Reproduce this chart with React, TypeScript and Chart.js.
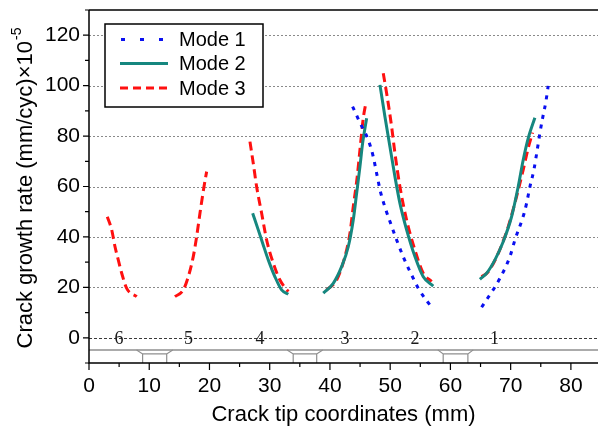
import React, { useEffect, useRef } from 'react';
import { Chart, registerables } from 'chart.js';

Chart.register(...registerables);

// ---------- Data ----------
const xTickLabels = [0, 10, 20, 30, 40, 50, 60, 70, 80];
const yTickLabels = [0, 20, 40, 60, 80, 100, 120];
const gridValues = [0, 20, 40, 60, 80, 100, 120];

// Mode 1 (blue dotted)
const mode1AX = [43.76, 44.98, 46.36, 47.19, 47.75, 48.42, 49.29, 50.07, 51.07, 52.28, 53.83, 54.82, 56.88];
const mode1AY = [91.7, 85.3, 78.5, 71.8, 65.2, 57.6, 50.7, 45.4, 38.8, 31.5, 23.6, 19.0, 12.1];
const mode1BX = [65.18, 68.22, 69.88, 70.71, 72.2, 72.65, 73.2, 73.86, 74.41, 74.85, 75.3, 75.85, 76.23];
const mode1BY = [12.1, 23.6, 32.2, 38.8, 49.1, 53.4, 59.9, 66.6, 74.5, 81.1, 87.1, 93.7, 99.9];

// Mode 2 (teal solid)
const mode2S4X = [27.17, 28.1, 28.83, 29.76, 30.87, 31.98, 33.08];
const mode2S4Y = [49.4, 42.8, 37.5, 30.9, 24.2, 19.0, 17.3];
const mode2S3X = [38.89, 40.55, 41.94, 43.04, 43.87, 44.43, 44.98, 45.42, 46.09];
const mode2S3Y = [17.7, 21.6, 28.2, 36.1, 46.7, 57.3, 67.9, 77.1, 87.1];
const mode2S2X = [48.3, 49.13, 49.96, 50.79, 51.62, 52.73, 54.11, 55.49, 57.15];
const mode2S2Y = [100.3, 87.7, 75.8, 63.9, 53.3, 42.8, 32.2, 24.2, 20.5];
const mode2S1X = [64.9, 66.01, 67.39, 68.76, 70.15, 71.25, 72.08, 72.91, 74.02];
const mode2S1Y = [23.2, 25.6, 30.9, 38.1, 48.0, 59.9, 70.5, 79.1, 87.3];

// Mode 3 (red dashed)
const mode3S6X = [3.04, 3.77, 4.32, 4.86, 5.43, 6.26, 7.92];
const mode3S6Y = [48.0, 42.8, 36.1, 30.9, 25.6, 19.6, 16.3];
const mode3S5X = [14.27, 15.65, 16.48, 17.31, 17.87, 18.42, 19.09, 19.53];
const mode3S5Y = [16.3, 19.0, 24.2, 32.2, 40.1, 49.4, 59.9, 65.9];
const mode3S4X = [26.72, 27.27, 27.83, 28.66, 29.49, 30.59, 31.7, 33.08];
const mode3S4Y = [77.8, 69.2, 59.9, 49.4, 38.8, 29.6, 22.9, 18.3];
const mode3S3X = [39.45, 41.11, 42.49, 43.32, 43.87, 44.53, 44.98, 45.53, 45.98];
const mode3S3Y = [19.0, 22.9, 32.2, 41.5, 52.0, 63.9, 74.5, 87.1, 93.3];
const mode3S2X = [48.85, 49.41, 50.24, 50.79, 51.62, 52.73, 54.11, 55.49, 56.88];
const mode3S2Y = [104.9, 97.0, 83.7, 73.2, 59.9, 46.7, 34.8, 25.6, 22.3];
const mode3S1X = [65.18, 66.28, 67.94, 69.6, 70.98, 72.08, 72.91, 73.64];
const mode3S1Y = [24.2, 26.2, 33.5, 44.1, 56.0, 66.6, 75.2, 81.4];

// Specimen sketch at the bottom
const stripLevel = -4.8;
const notchLevel = -6.4;
const supportOuterL = [7.9, 32.9, 57.9];
const supportInnerL = [8.9, 33.9, 58.8];
const supportInnerR = [12.9, 37.8, 62.9];
const supportOuterR = [13.9, 38.8, 63.8];
const crackLabels = ['6', '5', '4', '3', '2', '1'];
const crackLabelX = [5.0, 16.5, 28.4, 42.5, 54.1, 67.3];

const legendNames = ['Mode 1', 'Mode 2', 'Mode 3'];

const BLUE = '#0a10f0';
const TEAL = '#16877f';
const RED = '#ff1010';
const SANS = '"Liberation Sans", Arial, sans-serif';
const SERIF = '"Liberation Serif", "Times New Roman", serif';

const pts = (xs: number[], ys: number[]) => xs.map((x, i) => ({ x, y: ys[i] }));

const styleFor = (mode: number) => {
  if (mode === 1) return { borderColor: BLUE, borderWidth: 3, borderDash: [4, 6] };
  if (mode === 2) return { borderColor: TEAL, borderWidth: 3, borderDash: [] };
  return { borderColor: RED, borderWidth: 3, borderDash: [9, 5] };
};

const mk = (mode: number, xs: number[], ys: number[]) => ({
  label: legendNames[mode - 1],
  data: pts(xs, ys),
  showLine: true,
  pointRadius: 0,
  cubicInterpolationMode: 'monotone' as const,
  fill: false,
  ...styleFor(mode),
});

const decorPlugin = {
  id: 'decor',
  beforeDatasetsDraw(chart: any) {
    const { ctx, chartArea, scales } = chart;
    const { left, right, bottom } = chartArea;
    const xs = scales.x;
    const ys = scales.y;
    ctx.save();
    // grid lines
    gridValues.forEach((v) => {
      const py = Math.round(ys.getPixelForValue(v)) + 0.5;
      ctx.beginPath();
      if (v === 0) {
        ctx.strokeStyle = '#3a3a3a';
        ctx.setLineDash([3, 2]);
      } else {
        ctx.strokeStyle = '#8a8a8a';
        ctx.setLineDash([2, 2]);
      }
      ctx.lineWidth = 1;
      ctx.moveTo(left, py);
      ctx.lineTo(right, py);
      ctx.stroke();
    });
    ctx.setLineDash([]);
    // strip
    const sy = ys.getPixelForValue(stripLevel);
    const ny = ys.getPixelForValue(notchLevel);
    ctx.strokeStyle = '#8f8f8f';
    ctx.lineWidth = 1.5;
    ctx.beginPath();
    ctx.moveTo(left, sy);
    ctx.lineTo(right, sy);
    ctx.stroke();
    ctx.lineWidth = 1.2;
    for (let i = 0; i < supportOuterL.length; i++) {
      const a = xs.getPixelForValue(supportOuterL[i]);
      const b = xs.getPixelForValue(supportInnerL[i]);
      const c = xs.getPixelForValue(supportInnerR[i]);
      const d = xs.getPixelForValue(supportOuterR[i]);
      ctx.beginPath();
      ctx.moveTo(a, sy);
      ctx.lineTo(b, ny);
      ctx.lineTo(c, ny);
      ctx.lineTo(d, sy);
      ctx.moveTo(b, ny);
      ctx.lineTo(b, bottom);
      ctx.moveTo(c, ny);
      ctx.lineTo(c, bottom);
      ctx.stroke();
    }
    // crack numbers
    ctx.fillStyle = '#1a1a1a';
    ctx.font = `18px ${SERIF}`;
    ctx.textAlign = 'center';
    ctx.textBaseline = 'middle';
    const zy = ys.getPixelForValue(0);
    crackLabels.forEach((t, i) => {
      ctx.fillText(t, xs.getPixelForValue(crackLabelX[i]), zy + 1);
    });
    ctx.restore();
  },
  afterDatasetsDraw(chart: any) {
    const { ctx, chartArea, scales } = chart;
    const { left, right, top, bottom } = chartArea;
    const xs = scales.x;
    const ys = scales.y;
    ctx.save();
    ctx.setLineDash([]);
    ctx.strokeStyle = '#000';
    ctx.lineWidth = 1.5;
    // axes + top frame
    ctx.beginPath();
    ctx.moveTo(left, top);
    ctx.lineTo(right, top);
    ctx.moveTo(left, top);
    ctx.lineTo(left, bottom);
    ctx.lineTo(right, bottom);
    ctx.stroke();
    // ticks
    ctx.lineWidth = 1.2;
    ctx.beginPath();
    for (let v = -10; v <= 130; v += 10) {
      const py = ys.getPixelForValue(v);
      const len = v % 20 === 0 ? 6 : 4;
      ctx.moveTo(left, py);
      ctx.lineTo(left - len, py);
    }
    for (let v = 0; v <= 80; v += 5) {
      const px = xs.getPixelForValue(v);
      const len = v % 10 === 0 ? 7 : 4;
      ctx.moveTo(px, bottom);
      ctx.lineTo(px, bottom + len);
    }
    ctx.stroke();

    // legend
    const lx = 105, ly = 24, lw = 158, lh = 83;
    ctx.fillStyle = '#fff';
    ctx.fillRect(lx, ly, lw, lh);
    ctx.strokeStyle = '#000';
    ctx.lineWidth = 1.5;
    ctx.strokeRect(lx, ly, lw, lh);
    const rows = [39.5, 63.5, 88];
    legendNames.forEach((name, i) => {
      const st = styleFor(i + 1);
      ctx.beginPath();
      ctx.strokeStyle = st.borderColor;
      ctx.lineWidth = 3;
      if (i === 0) ctx.setLineDash([4, 15]);
      else if (i === 2) ctx.setLineDash([8, 5]);
      else ctx.setLineDash([]);
      ctx.moveTo(i === 0 ? 121 : 120, rows[i]);
      ctx.lineTo(168, rows[i]);
      ctx.stroke();
      ctx.setLineDash([]);
      ctx.fillStyle = '#000';
      ctx.font = `20px ${SANS}`;
      ctx.textAlign = 'left';
      ctx.textBaseline = 'middle';
      ctx.fillText(name, 179, rows[i] + 1);
    });

    // y title with superscript
    const main = 'Crack growth rate (mm/cyc)\u00d710';
    const sup = '-5';
    ctx.font = `22px ${SANS}`;
    const wMain = ctx.measureText(main).width;
    ctx.font = `14px ${SANS}`;
    const wSup = ctx.measureText(sup).width;
    const total = wMain + wSup;
    ctx.translate(26, (top + bottom) / 2 + 2);
    ctx.rotate(-Math.PI / 2);
    ctx.fillStyle = '#000';
    ctx.textAlign = 'left';
    ctx.textBaseline = 'middle';
    ctx.font = `22px ${SANS}`;
    ctx.fillText(main, -total / 2, 0);
    ctx.font = `14px ${SANS}`;
    ctx.fillText(sup, -total / 2 + wMain + 1, -9);
    ctx.restore();
  },
};

export default function App() {
  const ref = useRef<HTMLCanvasElement | null>(null);
  useEffect(() => {
    if (!ref.current) return;
    const chart = new Chart(ref.current, {
      type: 'scatter',
      data: {
        datasets: [
          mk(1, mode1AX, mode1AY),
          mk(1, mode1BX, mode1BY),
          mk(2, mode2S4X, mode2S4Y),
          mk(2, mode2S3X, mode2S3Y),
          mk(2, mode2S2X, mode2S2Y),
          mk(2, mode2S1X, mode2S1Y),
          mk(3, mode3S6X, mode3S6Y),
          mk(3, mode3S5X, mode3S5Y),
          mk(3, mode3S4X, mode3S4Y),
          mk(3, mode3S3X, mode3S3Y),
          mk(3, mode3S2X, mode3S2Y),
          mk(3, mode3S1X, mode3S1Y),
        ] as any,
      },
      options: {
        responsive: false,
        animation: false,
        layout: { padding: { top: 10, right: 0, left: 0, bottom: 0 } },
        plugins: { legend: { display: false }, tooltip: { enabled: false } },
        scales: {
          x: {
            type: 'linear',
            min: 0,
            max: 84.5,
            grid: { display: false, drawTicks: false },
            border: { display: false },
            ticks: {
              stepSize: 10,
              includeBounds: false,
              padding: 11,
              autoSkip: false,
              maxRotation: 0,
              color: '#000',
              font: { size: 21, family: SANS },
              callback: (v: any) => (xTickLabels.includes(Number(v)) ? String(v) : ''),
            },
            title: {
              display: true,
              text: 'Crack tip coordinates (mm)',
              color: '#000',
              font: { size: 22, family: SANS },
              padding: { top: 0, bottom: 4 },
            },
            afterFit: (s: any) => {
              s.height = 69;
              s.paddingLeft = 0;
              s.paddingRight = 0;
            },
          },
          y: {
            type: 'linear',
            min: -10,
            max: 130,
            grid: { display: false, drawTicks: false },
            border: { display: false },
            ticks: {
              stepSize: 10,
              includeBounds: false,
              padding: 9,
              autoSkip: false,
              color: '#000',
              font: { size: 21, family: SANS },
              callback: (v: any) => (yTickLabels.includes(Number(v)) ? String(v) : ''),
            },
            afterFit: (s: any) => {
              s.width = 89;
              s.paddingTop = 0;
              s.paddingBottom = 0;
            },
          },
        },
      } as any,
      plugins: [decorPlugin],
    });
    return () => chart.destroy();
  }, []);
  return (
    <div style={{ position: 'fixed', left: 0, top: 0, width: 598, height: 432, background: '#fff' }}>
      <canvas ref={ref} width={598} height={432} style={{ width: 598, height: 432 }} />
    </div>
  );
}
